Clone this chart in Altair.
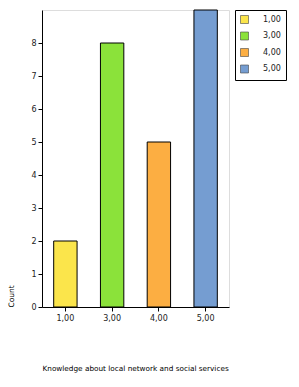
import altair as alt
import pandas as pd

categories = ["1,00", "3,00", "4,00", "5,00"]
counts = [2, 8, 5, 9]
colors = ["#FBE54B", "#8BE23A", "#FCAE42", "#759DD1"]
y_ticks = [0, 1, 2, 3, 4, 5, 6, 7, 8]

df = pd.DataFrame({"cat": categories, "count": counts})

FONT = "DejaVu Sans"

chart = (
    alt.Chart(df)
    .mark_bar(stroke="black", strokeWidth=1)
    .encode(
        x=alt.X(
            "cat:N",
            title="Knowledge about local network and social services",
            sort=categories,
            scale=alt.Scale(paddingInner=0.5, paddingOuter=0.25),
            axis=alt.Axis(
                labelAngle=0,
                tickSize=4,
                labelPadding=3,
                domainColor="black",
                tickColor="black",
                labelColor="#222",
                labelFont=FONT,
                labelFontSize=8,
                titleFont=FONT,
                titleFontSize=7.3,
                titleFontWeight="normal",
                titleColor="black",
                titleAnchor="start",
                titleAlign="left",
                titleBaseline="middle",
                titleX=0,
                titleY=61,
            ),
        ),
        y=alt.Y(
            "count:Q",
            title="Count",
            scale=alt.Scale(domain=[0, 9], nice=False),
            axis=alt.Axis(
                values=y_ticks,
                grid=False,
                tickSize=4,
                labelPadding=2,
                domainColor="black",
                tickColor="black",
                labelColor="#222",
                labelFont=FONT,
                labelFontSize=8,
                titleFont=FONT,
                titleFontSize=7.5,
                titleFontWeight="normal",
                titleColor="black",
                titleAngle=-90,
                titleAlign="left",
                titleBaseline="middle",
                titleX=-31,
                titleY=297,
            ),
        ),
        color=alt.Color(
            "cat:N",
            sort=categories,
            scale=alt.Scale(domain=categories, range=colors),
            legend=alt.Legend(
                title=None,
                orient="none",
                legendX=193,
                legendY=0,
                symbolType="square",
                symbolSize=64,
                symbolStrokeColor="#444",
                symbolStrokeWidth=0.6,
                symbolOpacity=1,
                labelFont=FONT,
                labelFontSize=8,
                labelColor="#222",
                labelOffset=14,
                rowPadding=5.5,
                padding=5,
                strokeColor="black",
                fillColor="white",
                labelExpr="datum.label + '    '",
            ),
        ),
    )
    .properties(
        width=187,
        height=297,
        autosize=alt.AutoSizeParams(type="none"),
        padding={"left": 42, "top": 10, "right": 70, "bottom": 80},
    )
    .configure_view(stroke="black", strokeWidth=1)
    .configure(background="white")
)

chart.save("out.html", embed_options={"renderer": "svg", "actions": False})
